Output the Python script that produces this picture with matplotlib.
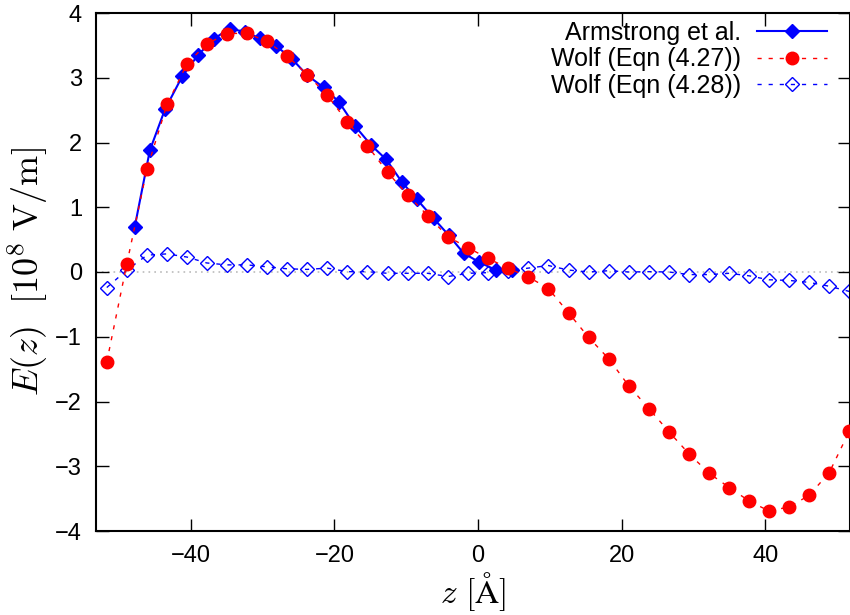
import numpy as np
import matplotlib
matplotlib.use('Agg')
import matplotlib.pyplot as plt

# Datos
z_arm = [-47.8, -45.7, -43.6, -41.2, -39.0, -36.8, -34.6, -32.5, -30.4, -28.1,
         -25.9, -23.8, -21.5, -19.4, -17.1, -14.9, -12.8, -10.6, -8.5, -6.2,
         -4.1, -2.0, 0.2, 2.5, 4.7]
e_arm = [0.70, 1.88, 2.51, 3.02, 3.35, 3.60, 3.76, 3.71, 3.61, 3.49,
         3.29, 3.04, 2.85, 2.63, 2.25, 1.96, 1.74, 1.39, 1.12, 0.83,
         0.57, 0.29, 0.15, 0.03, 0.03]

z_wolf = [-51.7, -48.9, -46.1, -43.3, -40.5, -37.8, -35.0, -32.2, -29.4, -26.6,
          -23.8, -21.0, -18.2, -15.4, -12.6, -9.8, -7.0, -4.2, -1.4, 1.4,
          4.2, 7.0, 9.8, 12.6, 15.4, 18.2, 21.0, 23.8, 26.6, 29.4,
          32.2, 35.0, 37.8, 40.5, 43.3, 46.1, 48.9, 51.7]
e_wolf27 = [-1.39, 0.13, 1.59, 2.59, 3.22, 3.52, 3.68, 3.69, 3.56, 3.34,
            3.05, 2.73, 2.32, 1.95, 1.54, 1.19, 0.87, 0.545, 0.375, 0.21,
            0.057, -0.075, -0.255, -0.63, -1.01, -1.34, -1.76, -2.11, -2.47, -2.81,
            -3.11, -3.33, -3.54, -3.69, -3.63, -3.45, -3.10, -2.46]
e_wolf28 = [-0.24, 0.03, 0.26, 0.28, 0.23, 0.14, 0.11, 0.11, 0.08, 0.05,
            0.04, 0.06, 0.005, 0.005, -0.02, -0.02, -0.02, -0.07, -0.02, -0.01,
            0.02, 0.06, 0.10, 0.03, 0.0, 0.02, 0.0, 0.005, 0.0, -0.04,
            -0.04, -0.02, -0.06, -0.12, -0.13, -0.16, -0.22, -0.30]

labels = ['Armstrong et al.', 'Wolf (Eqn (4.27))', 'Wolf (Eqn (4.28))']

plt.rcParams['font.family'] = ['Liberation Sans', 'DejaVu Sans']
plt.rcParams['mathtext.fontset'] = 'cm'

fig = plt.figure(figsize=(8.5, 6.15), dpi=100)
ax = fig.add_axes([96 / 850, (615 - 531) / 615, (850 - 96) / 850, (531 - 13) / 615])

# linea del cero
ax.axhline(0, color='#bbbbbb', lw=1.2, ls=(0, (1, 2.5)), zorder=1)

ax.plot(z_arm, e_arm, color='blue', lw=1.5, marker='D', ms=7,
        mfc='blue', mec='blue', label=labels[0], zorder=3)
ax.plot(z_wolf, e_wolf27, color='red', lw=1, ls=(0, (3, 5)), marker='o', ms=9,
        mfc='red', mec='red', label=labels[1], zorder=4)
ax.plot(z_wolf, e_wolf28, color='blue', lw=1, ls=(0, (3, 5)), marker='D', ms=7.5,
        mfc='none', mec='blue', mew=1, label=labels[2], zorder=2)

ax.set_xlim(-53.2, 51.8)
ax.set_ylim(-4, 4)
ax.set_xticks([-40, -20, 0, 20, 40])
ax.set_yticks(np.arange(-4, 5, 1))
ax.tick_params(direction='in', length=9, width=1, top=True, right=True,
               labelsize=17, pad=10)
for s in ax.spines.values():
    s.set_linewidth(1.5)

ax.set_xlabel(r'$z\ [\mathrm{\AA}]$', fontsize=24, labelpad=2)
ax.set_ylabel(r'$E(z)\ \ [10^8\ \mathrm{V/m}]$', fontsize=26, labelpad=4)

ax.legend(loc='upper right', bbox_to_anchor=(0.9695, 0.985), frameon=False,
          markerfirst=False, fontsize=18, handlelength=2.8, handletextpad=0.64,
          labelspacing=0.1, borderaxespad=0, borderpad=0)

fig.savefig('out.png', dpi=100)
